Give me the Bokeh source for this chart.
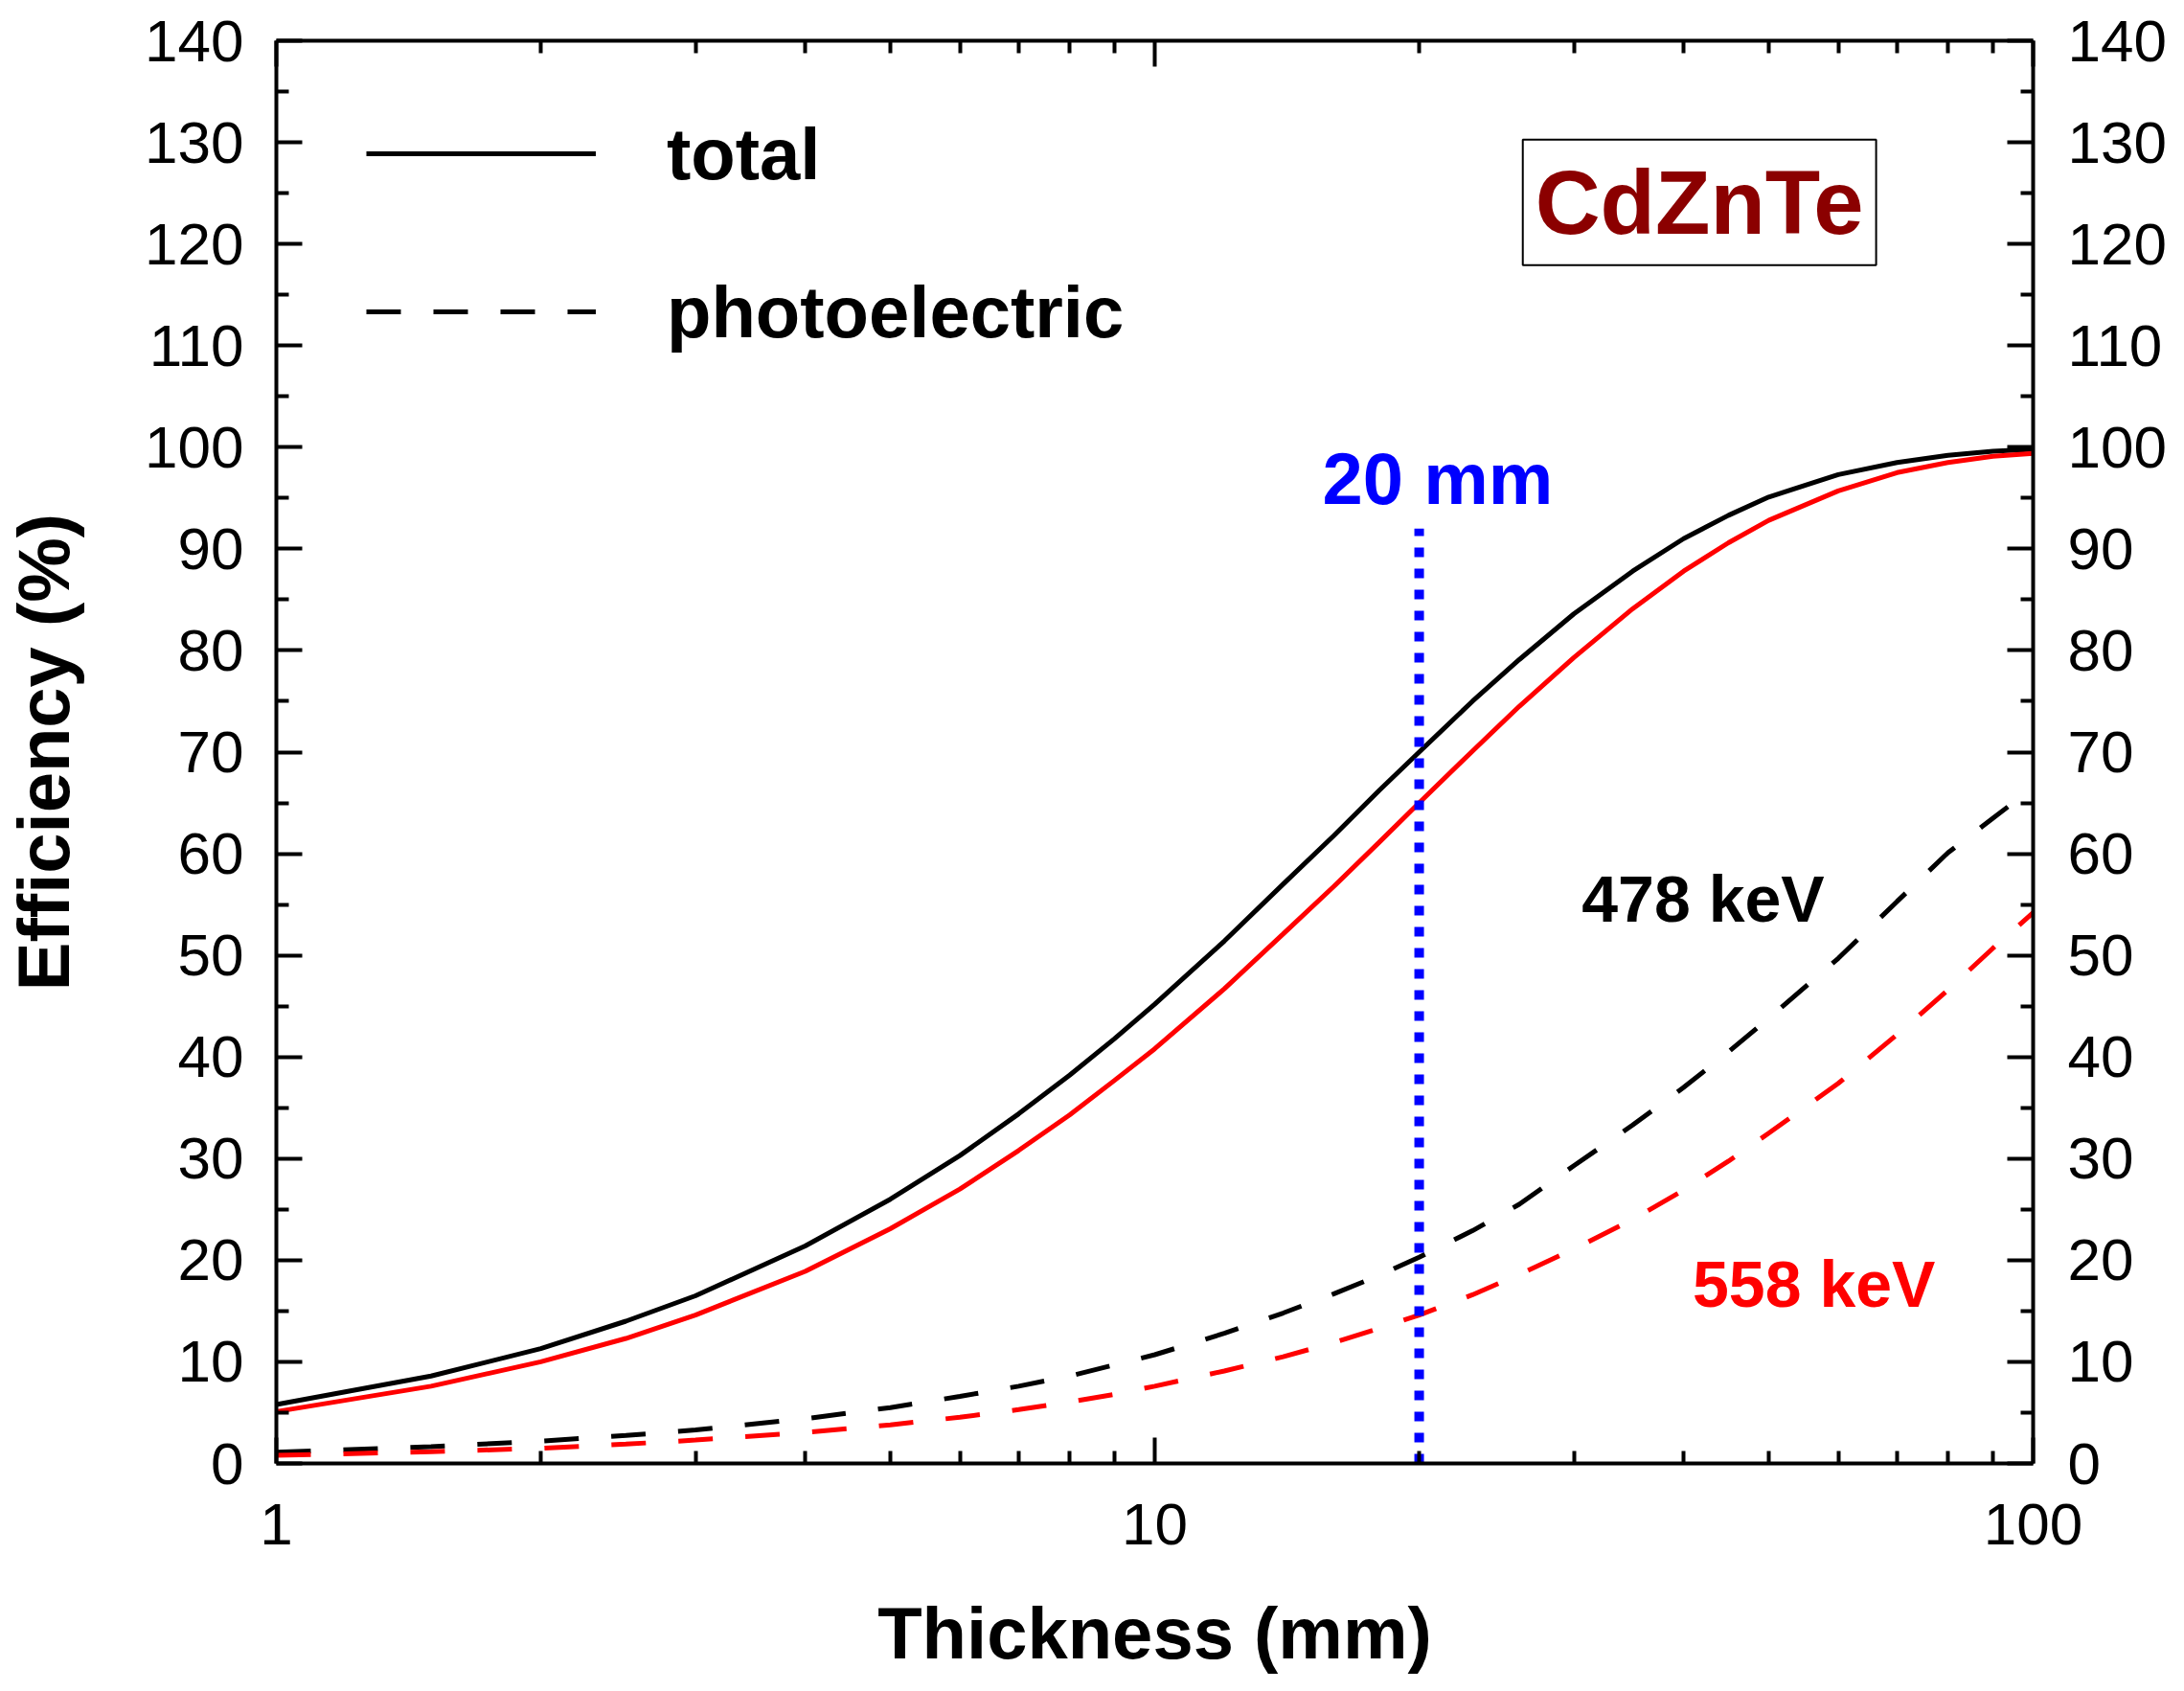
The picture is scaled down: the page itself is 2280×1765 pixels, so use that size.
from bokeh.embed import file_html
from bokeh.resources import INLINE
from bokeh.plotting import figure
from bokeh.models import Range1d, LinearAxis, LogAxis, FixedTicker, Label, Legend, LegendItem

# thickness (mm)
thickness = [1, 1.5, 2, 2.5, 3, 4, 5, 6, 7, 8, 9, 10, 12, 14, 16, 18, 20,
             23, 26, 30, 35, 40, 45, 50, 60, 70, 80, 90, 100]

# efficiency (%)
total_478 = [5.8, 8.6, 11.3, 14.0, 16.5, 21.4, 26.0, 30.3, 34.4, 38.2, 41.8, 45.2, 51.4, 57.0, 61.8, 66.2, 70.0,
             75.0, 79.1, 83.6, 87.8, 91.0, 93.3, 95.1, 97.3, 98.5, 99.2, 99.6, 99.8]
total_558 = [5.1, 7.6, 10.0, 12.3, 14.6, 18.9, 23.1, 27.0, 30.8, 34.3, 37.7, 40.8, 46.7, 52.1, 56.8, 61.1, 65.0,
             70.1, 74.5, 79.3, 84.1, 87.8, 90.6, 92.8, 95.7, 97.5, 98.5, 99.1, 99.4]
photo_478 = [1.1, 1.65, 2.2, 2.75, 3.3, 4.4, 5.5, 6.6, 7.6, 8.6, 9.7, 10.7, 12.8, 14.8, 16.7, 18.5, 20.3,
             22.9, 25.5, 29.3, 33.3, 37.0, 40.5, 43.8, 49.7, 55.3, 60.1, 63.5, 66.5]
photo_558 = [0.8, 1.15, 1.5, 1.9, 2.3, 3.05, 3.8, 4.55, 5.3, 6.05, 6.8, 7.6, 9.1, 10.5, 11.9, 13.3, 14.6,
             16.6, 18.6, 21.1, 24.0, 26.9, 29.75, 32.5, 37.4, 42.2, 46.6, 50.7, 54.2]

marker_x = 20
marker_top = 92

x_major = [1, 10, 100]
x_minor = [2, 3, 4, 5, 6, 7, 8, 9, 20, 30, 40, 50, 60, 70, 80, 90]
y_major = list(range(0, 141, 10))
y_minor = list(range(5, 140, 10))

FONT = "Liberation Sans"

p = figure(width=2264, height=1749, x_axis_type="log",
           x_range=Range1d(1, 100), y_range=Range1d(0, 140),
           output_backend="svg", toolbar_location=None,
           min_border_left=280, min_border_right=142,
           min_border_top=42, min_border_bottom=220)

p.grid.visible = False
p.outline_line_color = None
p.background_fill_color = "white"
p.border_fill_color = "white"

bottom = p.below[0]
left = p.left[0]

r_tot = p.line(thickness, total_478, line_color="black", line_width=5)
p.line(thickness, total_558, line_color="#FF0000", line_width=5)
r_ph = p.line(thickness, photo_478, line_color="black", line_width=5, line_dash="36 34")
p.line(thickness, photo_558, line_color="#FF0000", line_width=5, line_dash="36 34")

p.line([marker_x, marker_x], [0, marker_top], line_color="#0000FF", line_width=10, line_dash="10 12")

# axes
xtick = FixedTicker(ticks=x_major, minor_ticks=x_minor)
ytick = FixedTicker(ticks=y_major, minor_ticks=y_minor)

top = LogAxis(ticker=xtick)
right = LinearAxis(ticker=ytick)
p.add_layout(top, "above")
p.add_layout(right, "right")

bottom.ticker = xtick
left.ticker = ytick
bottom.major_label_overrides = {1: "1", 10: "10", 100: "100"}

for ax in [bottom, left, top, right]:
    ax.axis_line_width = 4
    ax.major_tick_line_width = 4
    ax.minor_tick_line_width = 4
    ax.major_tick_in = 27
    ax.major_tick_out = 0
    ax.minor_tick_in = 13
    ax.minor_tick_out = 0
    ax.major_label_text_font = FONT
    ax.major_label_text_font_size = "62px"
    ax.major_label_text_color = "black"

top.major_label_text_color = None
top.major_label_standoff = 0

bottom.major_label_standoff = 42
left.major_label_standoff = 34
right.major_label_standoff = 36

bottom.axis_label = "Thickness (mm)"
left.axis_label = "Efficiency (%)"
for ax in [bottom, left]:
    ax.axis_label_text_font = FONT
    ax.axis_label_text_font_size = "76px"
    ax.axis_label_text_font_style = "bold"
    ax.axis_label_text_color = "black"
bottom.axis_label_standoff = 47
left.axis_label_standoff = 60

# legend
legend = Legend(items=[LegendItem(label="total", renderers=[r_tot]),
                       LegendItem(label="photoelectric", renderers=[r_ph])],
                location=(94, 1157), orientation="vertical",
                glyph_width=240, glyph_height=90, label_height=90,
                spacing=75, padding=0, margin=0, label_standoff=74,
                label_text_font=FONT, label_text_font_size="76px",
                label_text_font_style="bold", label_text_color="black",
                border_line_color=None, background_fill_alpha=0)
p.add_layout(legend)

# annotations
p.add_layout(Label(x=41.7, y=124.1, text="CdZnTe", text_align="center", text_baseline="middle",
                   text_font=FONT, text_font_size="94px", text_font_style="bold",
                   text_color="#8B0000", padding=13,
                   border_line_color="black", border_line_width=2,
                   background_fill_color="white"))
p.add_layout(Label(x=21, y=96.9, text="20 mm", text_align="center", text_baseline="alphabetic",
                   text_font=FONT, text_font_size="76px", text_font_style="bold",
                   text_color="#0000FF"))
p.add_layout(Label(x=42.1, y=55.6, text="478 keV", text_align="center", text_baseline="alphabetic",
                   text_font=FONT, text_font_size="68px", text_font_style="bold",
                   text_color="black"))
p.add_layout(Label(x=56.3, y=17.7, text="558 keV", text_align="center", text_baseline="alphabetic",
                   text_font=FONT, text_font_size="68px", text_font_style="bold",
                   text_color="#FF0000"))

open("out.html", "w").write(file_html(p, INLINE))
